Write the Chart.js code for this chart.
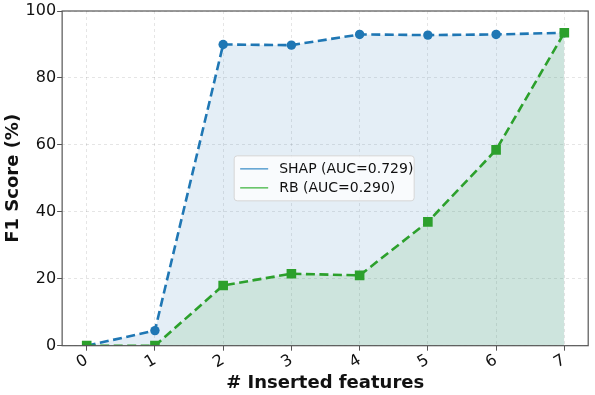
<!DOCTYPE html>
<html>
<head>
<meta charset="utf-8">
<script src="https://cdn.jsdelivr.net/npm/chart.js@4"></script>
<style>
  html, body { margin: 0; padding: 0; background: #fff; }
  #wrap { width: 595px; height: 395px; }
</style>
</head>
<body>
<div id="wrap"><canvas id="f1Chart" width="595" height="395"></canvas></div>
<script>
// data
const featureCounts = [0, 1, 2, 3, 4, 5, 6, 7];
const shapScores = [0, 4.5, 90, 89.8, 93, 92.8, 93, 93.5];
const rbScores = [0, 0, 18, 21.5, 21, 37, 58.5, 93.5];
const yTicks = [0, 20, 40, 60, 80, 100];
const seriesLabels = ["SHAP (AUC=0.729)", "RB (AUC=0.290)"];

const FONT = "'DejaVu Sans', sans-serif";
const blue = "#1f77b4";
const green = "#2ca02c";

// box round the plot + the legend in the middle
const frameAndLegend = {
  id: "frameAndLegend",
  afterDatasetsDraw(chart) {
    const { ctx, chartArea: a } = chart;
    ctx.save();
    ctx.strokeStyle = "#555";
    ctx.lineWidth = 1.2;
    ctx.strokeRect(a.left, a.top, a.right - a.left, a.bottom - a.top);

    const w = 180, h = 45;
    const x = (a.left + a.right) / 2 - w / 2 - 1;
    const y = (a.top + a.bottom) / 2 - h / 2;
    ctx.fillStyle = "rgba(255,255,255,0.8)";
    ctx.strokeStyle = "#d5d5d5";
    ctx.lineWidth = 1;
    ctx.beginPath();
    ctx.roundRect(x, y, w, h, 3);
    ctx.fill();
    ctx.stroke();

    const colors = ["#5a9fd0", "#5cbf5c"];
    ctx.font = "14px " + FONT;
    ctx.textBaseline = "middle";
    seriesLabels.forEach((lbl, i) => {
      const ly = y + 13 + i * 19;
      ctx.strokeStyle = colors[i];
      ctx.lineWidth = 1.5;
      ctx.beginPath();
      ctx.moveTo(x + 6, ly);
      ctx.lineTo(x + 34, ly);
      ctx.stroke();
      ctx.fillStyle = "#111";
      ctx.fillText(lbl, x + 45, ly + 1);
    });
    ctx.restore();
  },
};

const data = {
  datasets: [
    {
      label: seriesLabels[0],
      data: featureCounts.map((x, i) => ({ x, y: shapScores[i] })),
      borderColor: blue,
      backgroundColor: "rgba(31,119,180,0.12)",
      fill: "origin",
      borderDash: [9, 4.5],
      borderWidth: 2.6,
      pointStyle: "circle",
      pointRadius: 4.7,
      pointBackgroundColor: blue,
      pointBorderWidth: 0,
      tension: 0,
      order: 1,
    },
    {
      label: seriesLabels[1],
      data: featureCounts.map((x, i) => ({ x, y: rbScores[i] })),
      borderColor: green,
      backgroundColor: "rgba(44,160,44,0.12)",
      fill: "origin",
      borderDash: [9, 4.5],
      borderWidth: 2.6,
      pointStyle: "rect",
      pointRadius: 6.8,
      pointBackgroundColor: green,
      pointBorderWidth: 0,
      tension: 0,
      order: 0,
    },
  ],
};

const config = {
  type: "line",
  data,
  options: {
    responsive: false,
    animation: false,
    layout: { padding: { top: 11, right: 6, left: 0, bottom: 1 } },
    plugins: {
      legend: { display: false },
      tooltip: { enabled: false },
    },
    scales: {
      x: {
        type: "linear",
        min: -0.36,
        max: 7.35,
        afterBuildTicks: (scale) => {
          scale.ticks = featureCounts.map((v) => ({ value: v }));
        },
        ticks: {
          font: { family: FONT, size: 16 },
          color: "#111",
          minRotation: 30,
          maxRotation: 30,
          padding: 0,
        },
        grid: {
          color: "rgba(0,0,0,0.1)",
          tickColor: "#555",
          tickLength: 5,
          tickBorderDash: [],
        },
        border: { display: false, dash: [3, 3] },
        title: {
          display: true,
          text: "# Inserted features",
          font: { family: FONT, size: 18, weight: "bold" },
          color: "#111",
          padding: { top: 0, bottom: 0 },
        },
      },
      y: {
        min: 0,
        max: 100,
        afterBuildTicks: (scale) => {
          scale.ticks = yTicks.map((v) => ({ value: v }));
        },
        ticks: {
          font: { family: FONT, size: 16 },
          color: "#111",
          padding: 1,
        },
        grid: {
          color: "rgba(0,0,0,0.1)",
          tickColor: "#555",
          tickLength: 5,
          tickBorderDash: [],
        },
        border: { display: false, dash: [3, 3] },
        title: {
          display: true,
          text: "F1 Score (%)",
          font: { family: FONT, size: 18, weight: "bold" },
          color: "#111",
          padding: { top: 3, bottom: 0 },
        },
      },
    },
  },
  plugins: [frameAndLegend],
};

const f1Chart = new Chart(document.querySelector("#f1Chart"), config);
</script>
</body>
</html>
